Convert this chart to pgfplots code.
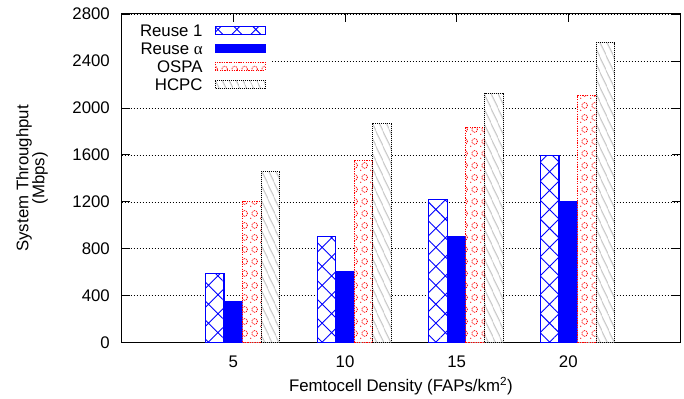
\documentclass[border=0pt]{standalone}
\usepackage{fontspec}
\setmainfont{Liberation Sans}
\newfontfamily\greekserif{Liberation Serif}
\usepackage{pgfplots}
\pgfplotsset{compat=1.18}
\usetikzlibrary{patterns,patterns.meta}

\tikzdeclarepattern{
  name=rings,
  type=uncolored,
  bounding box={(0bp,0bp) and (10bp,12bp)},
  tile size={(10bp,12bp)},
  code={
    \draw[line width=0.9bp, dash pattern=on 1bp off 1bp] (5bp,6bp) circle (3.1bp);
    \fill (0.8bp,0.8bp) circle (0.7bp);
  }
}

\pgfplotsset{mylegend/.style={legend image code/.code={\draw[##1] (0bp,2bp) rectangle (50bp,10bp);}}}

\begin{document}
\begin{tikzpicture}[font=\fontsize{16.8bp}{19bp}\selectfont]
\useasboundingbox (-121.7bp,-56.3bp) rectangle (562.3bp,342.7bp);
\begin{axis}[
  width=558.3bp, height=328.7bp, scale only axis,
  xmin=0, xmax=25, ymin=0, ymax=2800,
  xtick={5,10,15,20}, ytick={0,400,...,2800},
  minor tick num=0,
  tick align=inside, major tick length=8bp,
  ymajorgrids,
  major grid style={black, line width=0.6bp, dash pattern=on 0.7bp off 2.3bp},
  axis line style={line width=1bp},
  every tick/.style={black, line width=0.8bp},
  /pgf/number format/assume math mode=true,
  /pgf/number format/1000 sep={},
  yticklabel style={anchor=east, inner sep=0pt, xshift=-11.7bp},
  xticklabel style={anchor=base, inner sep=0pt, yshift=-24.3bp},
  ylabel={System Throughput\\(Mbps)},
  ylabel style={at={(axis description cs:-0.1607,0.5)}, anchor=center, align=center, font=\fontsize{16.8bp}{16bp}\selectfont},
  xlabel={Femtocell Density (FAPs/km\textsuperscript{2})},
  xlabel style={at={(axis description cs:0.5,-0.1317)}, anchor=center},
  legend plot pos=right,
  legend style={draw=none, fill=white, at={(0.2692,0.9757)}, anchor=north east,
    inner xsep=6bp, inner ysep=3bp, row sep=4.6bp, column sep=12bp,
    font=\fontsize{16.8bp}{19bp}\selectfont, nodes={inner sep=0bp, anchor=base east}},
  legend cell align=right,
]
\addplot[ybar, bar width=0.8333, bar shift=-0.8333, mylegend,
  draw=blue, line width=1.2bp, fill=white,
  postaction={pattern={Hatch[angle=45,distance=13.4bp,line width=0.9bp]}, pattern color=blue}]
  coordinates {(5,590) (10,905) (15,1220) (20,1595)};
\addlegendentry{\makebox[75bp][r]{Reuse 1}}
\addplot[ybar, bar width=0.8333, bar shift=0, mylegend,
  draw=blue, line width=1bp, fill=blue]
  coordinates {(5,350) (10,610) (15,905) (20,1205)};
\addlegendentry{\makebox[75bp][r]{Reuse {\greekserif α}}}
\addplot[ybar, bar width=0.8333, bar shift=0.8333, mylegend,
  draw=red, line width=1bp, dash pattern=on 1.2bp off 1.2bp, fill=white,
  postaction={pattern=rings, pattern color=red}]
  coordinates {(5,1200) (10,1555) (15,1830) (20,2105)};
\addlegendentry{\makebox[75bp][r]{OSPA}}
\addplot[ybar, bar width=0.8333, bar shift=1.6667, mylegend,
  draw=black, line width=1bp, dash pattern=on 1bp off 1bp, fill=white,
  postaction={pattern={Lines[angle=-65,distance=6bp,line width=0.5bp]}, pattern color=black!70}]
  coordinates {(5,1460) (10,1870) (15,2125) (20,2555)};
\addlegendentry{\makebox[75bp][r]{HCPC}}
\end{axis}
\end{tikzpicture}
\end{document}
